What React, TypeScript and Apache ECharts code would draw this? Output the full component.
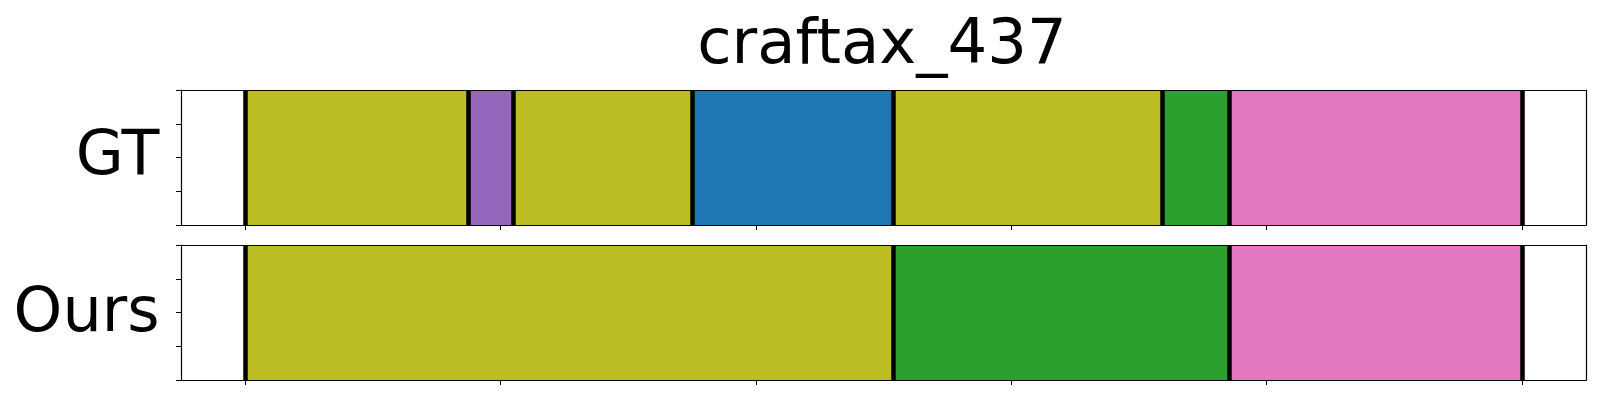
import React, { useEffect, useRef } from "react";
import * as echarts from "echarts";

const chartTitle = "craftax_437";
const rowLabels = ["GT", "Ours"];

// segments (frame units) for each row
const gtStarts = [0, 87.5, 105, 175, 254, 359, 385.5];
const gtEnds = [87.5, 105, 175, 254, 359, 385.5, 500];
const gtActions = ["olive", "purple", "olive", "blue", "olive", "green", "pink"];

const oursStarts = [0, 254, 385.5];
const oursEnds = [254, 385.5, 500];
const oursActions = ["olive", "green", "pink"];

const xTicks = [0, 100, 200, 300, 400, 500];
const xMin = -25;
const xMax = 525;

const palette: Record<string, string> = {
  olive: "#bcbd22",
  purple: "#9467bd",
  blue: "#1f77b4",
  green: "#2ca02c",
  pink: "#e377c2",
};

const FONT = "DejaVu Sans";

export default function App() {
  const ref = useRef<HTMLDivElement>(null);

  useEffect(() => {
    document.body.style.margin = "0";
    if (!ref.current) return;
    const chart = echarts.init(ref.current, undefined, { renderer: "svg" });

    const rows = [
      { starts: gtStarts, ends: gtEnds, actions: gtActions },
      { starts: oursStarts, ends: oursEnds, actions: oursActions },
    ];
    const gridTops = [90, 245];
    const gridH = 135;

    const grids = gridTops.map((t) => ({
      left: 181,
      right: 14,
      top: t,
      height: gridH,
      containLabel: false,
    }));

    const xAxes: any[] = [];
    const yAxes: any[] = [];
    rows.forEach((_, gi) => {
      xAxes.push({
        type: "value",
        gridIndex: gi,
        min: xMin,
        max: xMax,
        position: "bottom",
        z: 10,
        axisLine: { show: true, onZero: false, lineStyle: { color: "#000", width: 1.2 } },
        axisTick: { show: true, inside: false, length: 5, customValues: xTicks, lineStyle: { color: "#000", width: 1 } },
        axisLabel: { show: false },
        splitLine: { show: false },
      });
      xAxes.push({
        type: "value",
        gridIndex: gi,
        min: xMin,
        max: xMax,
        position: "top",
        z: 10,
        axisLine: { show: true, onZero: false, lineStyle: { color: "#000", width: 1.2 } },
        axisTick: { show: false },
        axisLabel: { show: false },
        splitLine: { show: false },
      });
      yAxes.push({
        type: "value",
        gridIndex: gi,
        min: 0,
        max: 1,
        interval: 0.25,
        position: "left",
        z: 10,
        axisLine: { show: true, onZero: false, lineStyle: { color: "#000", width: 1.2 } },
        axisTick: { show: true, inside: false, length: 5, lineStyle: { color: "#000", width: 1 } },
        axisLabel: { show: false },
        splitLine: { show: false },
      });
      yAxes.push({
        type: "value",
        gridIndex: gi,
        min: 0,
        max: 1,
        interval: 0.25,
        position: "right",
        z: 10,
        axisLine: { show: true, onZero: false, lineStyle: { color: "#000", width: 1.2 } },
        axisTick: { show: false },
        axisLabel: { show: false },
        splitLine: { show: false },
      });
    });

    const series = rows.map((row, gi) => {
      const boundaries = Array.from(new Set([...row.starts, ...row.ends]));
      return {
        type: "custom",
        xAxisIndex: gi * 2,
        yAxisIndex: gi * 2,
        encode: { x: [0, 1] },
        data: row.starts.map((s, i) => [s, row.ends[i]]),
        renderItem: (params: any, api: any) => {
          const s = api.value(0);
          const e = api.value(1);
          const p0 = api.coord([s, 1]);
          const p1 = api.coord([e, 0]);
          return {
            type: "rect",
            shape: { x: p0[0], y: p0[1], width: p1[0] - p0[0], height: p1[1] - p0[1] },
            style: { fill: palette[row.actions[params.dataIndex]], stroke: null },
          };
        },
        markLine: {
          silent: true,
          symbol: ["none", "none"],
          label: { show: false },
          emphasis: { disabled: true },
          lineStyle: { color: "#000", width: 4.5, type: "solid" },
          data: boundaries.map((v) => ({ xAxis: v })),
        },
      };
    });

    const baselines = [174, 330.7];
    const graphic: any[] = [
      {
        type: "text",
        x: 882,
        y: 63 - 21.6,
        style: {
          text: chartTitle,
          font: `62.5px '${FONT}'`,
          fill: "#000",
          textAlign: "center",
          textVerticalAlign: "middle",
        },
      },
      ...rowLabels.map((lab, i) => ({
        type: "text",
        x: 159.5,
        y: baselines[i] - 21.4,
        style: {
          text: lab,
          font: `62px '${FONT}'`,
          fill: "#000",
          textAlign: "right",
          textVerticalAlign: "middle",
        },
      })),
    ];

    chart.setOption({
      animation: false,
      backgroundColor: "#fff",
      grid: grids,
      xAxis: xAxes,
      yAxis: yAxes,
      series,
      graphic,
    });

    return () => chart.dispose();
  }, []);

  return <div ref={ref} style={{ width: 1600, height: 400 }} />;
}
